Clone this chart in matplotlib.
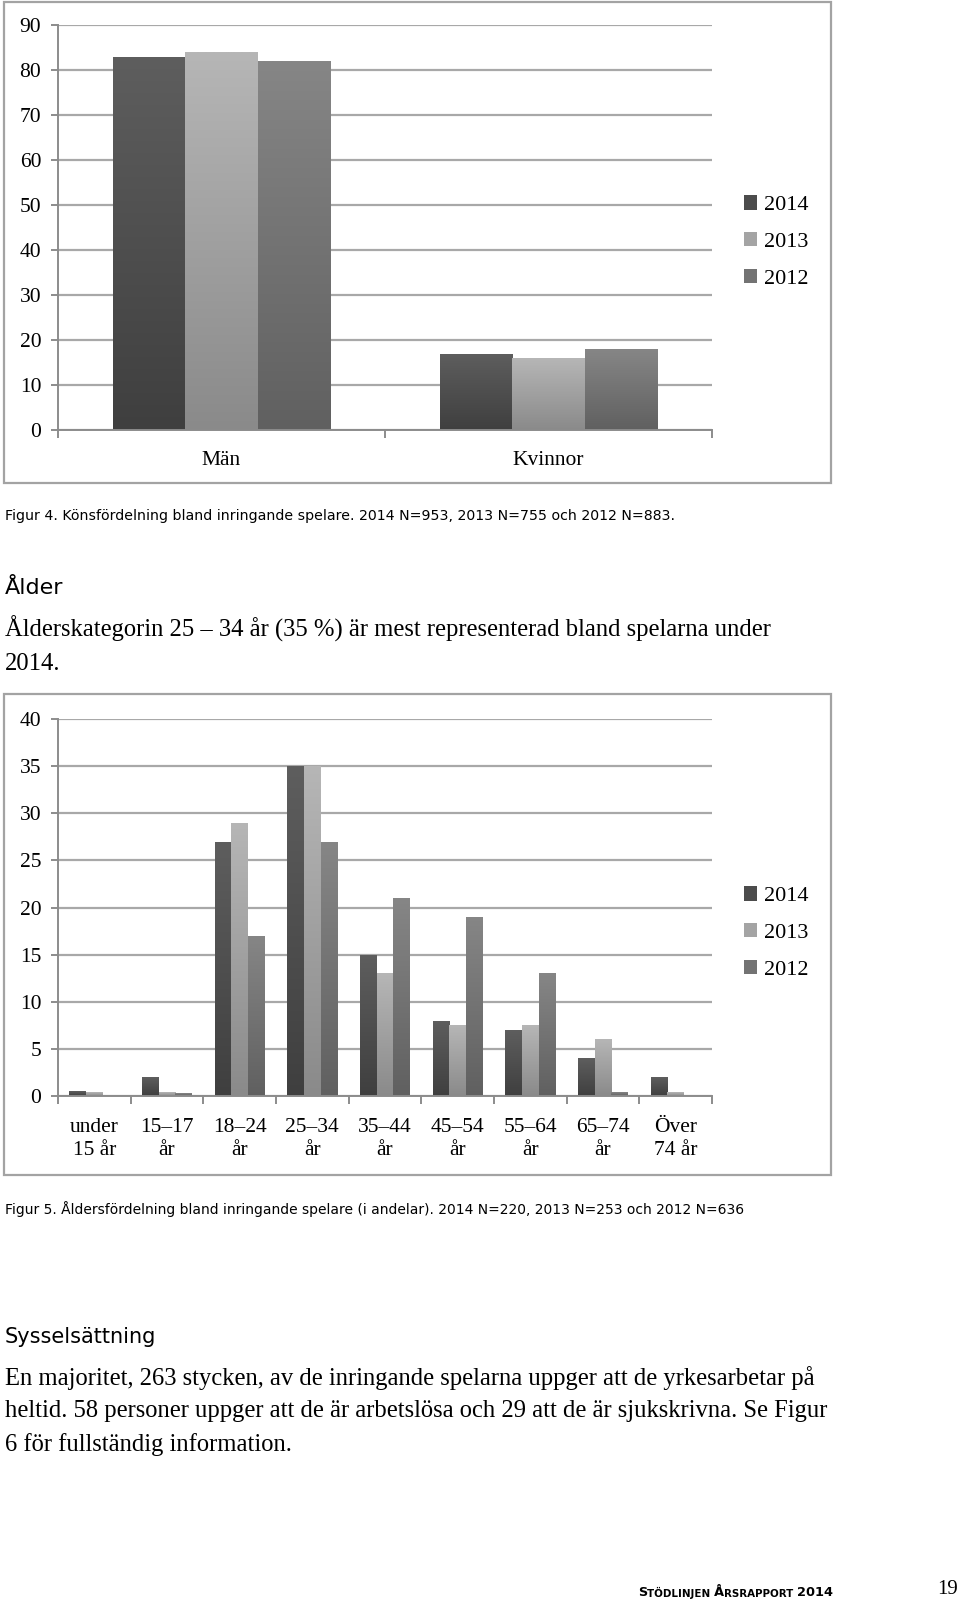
import numpy as np
import matplotlib.pyplot as plt
from matplotlib.patches import Rectangle
from matplotlib.colors import LinearSegmentedColormap

# data read from the page
years = ['2014', '2013', '2012']

kon_labels = ['Män', 'Kvinnor']
kon_2014 = [83, 17]
kon_2013 = [84, 16]
kon_2012 = [82, 18]

alder_labels = ['under\n15 år', '15–17\når', '18–24\når', '25–34\når', '35–44\når',
                '45–54\når', '55–64\når', '65–74\når', 'Över\n74 år']
alder_2014 = [0.5, 2, 27, 35, 15, 8, 7, 4, 2]
alder_2013 = [0.4, 0.4, 29, 35, 13, 7.5, 7.5, 6, 0.4]
alder_2012 = [0, 0.3, 17, 27, 21, 19, 13, 0.4, 0]

# (top colour, bottom colour) per year
bar_colors = [('#5e5e5e', '#3f3f3f'), ('#b6b6b6', '#8a8a8a'), ('#868686', '#606060')]
legend_colors = ['#4c4c4c', '#a4a4a4', '#737373']
grid_c = '#a8a8a8'
axis_c = '#8c8c8c'
serif = ['Liberation Serif', 'DejaVu Serif']
sans = ['DejaVu Sans']

W, H = 960, 1601
fig = plt.figure(figsize=(W / 100, H / 100), dpi=100)


def px_axes(left, top, right, bottom):
    return fig.add_axes([left / W, 1 - bottom / H, (right - left) / W, (bottom - top) / H])


def gradient_bars(ax, bars, top_c, bot_c):
    cmap = LinearSegmentedColormap.from_list('g', [bot_c, top_c])
    grad = np.linspace(0, 1, 256).reshape(-1, 1)
    for b in bars:
        x, y, w, h = b.get_x(), b.get_y(), b.get_width(), b.get_height()
        if h <= 0:
            continue
        im = ax.imshow(grad, cmap=cmap, extent=(x, x + w, y, y + h), origin='lower',
                       aspect='auto', zorder=2, interpolation='bilinear')
        im.set_clip_path(b)
        b.set_facecolor('none')


def bar_chart(ax, labels, series, width, ymax, step, label_pad):
    n = len(labels)
    x = np.arange(n)
    for i, vals in enumerate(series):
        bars = ax.bar(x + (i - 1) * width, vals, width, linewidth=0, zorder=2)
        gradient_bars(ax, bars, *bar_colors[i])
    ax.set_xlim(-0.5, n - 0.5)
    ax.set_ylim(0, ymax)
    ax.set_yticks(np.arange(0, ymax + 1, step))
    ax.yaxis.grid(True, color=grid_c, lw=1.6)
    ax.set_axisbelow(True)
    for s in ['top', 'right']:
        ax.spines[s].set_visible(False)
    for s in ['left', 'bottom']:
        ax.spines[s].set_color(axis_c)
        ax.spines[s].set_linewidth(1.4)
    ax.spines['bottom'].set_zorder(3)
    ax.set_xticks(x)
    ax.set_xticklabels(labels, fontfamily=serif, fontsize=15.5, linespacing=1.3)
    ax.set_xticks(np.arange(-0.5, n), minor=True)
    ax.tick_params(axis='x', which='major', length=0, pad=label_pad)
    ax.tick_params(axis='x', which='minor', length=6, width=1.4, color=axis_c)
    ax.tick_params(axis='y', length=5, width=1.4, color=axis_c, pad=7, labelsize=15.5)
    for t in ax.get_yticklabels():
        t.set_fontfamily(serif)
    ax.set_facecolor('none')


def frame(left, top, right, bottom):
    fig.add_artist(Rectangle((left / W, 1 - bottom / H), (right - left) / W, (bottom - top) / H,
                             transform=fig.transFigure, fill=False, ec='#a3a3a3', lw=1.6))


def legend(center_y):
    handles = [Rectangle((0, 0), 1, 1, fc=c, ec='none') for c in legend_colors]
    fig.legend(handles, years, loc='center left', bbox_to_anchor=(724 / W, 1 - center_y / H),
               frameon=False, handlelength=0.6, handleheight=0.6, handletextpad=0.3,
               labelspacing=0.75, prop={'family': serif, 'size': 16})


def text(x, y, s, size, family, **kw):
    fig.text(x / W, 1 - y / H, s, fontsize=size, fontfamily=family, va='center', ha='left', **kw)


# Figur 4
frame(4, 2, 831, 483)
ax1 = px_axes(58, 25.5, 712, 430)
bar_chart(ax1, kon_labels, [kon_2014, kon_2013, kon_2012], 0.222, 90, 10, 15)
legend(242)

text(5, 516, 'Figur 4. Könsfördelning bland inringande spelare. 2014 N=953, 2013 N=755 och 2012 N=883.',
     10.2, sans)
text(5, 588, 'Ålder', 16, sans)
text(5, 629, 'Ålderskategorin 25 – 34 år (35 %) är mest representerad bland spelarna under', 17.7, serif)
text(5, 664, '2014.', 17.7, serif)

# Figur 5
frame(4, 694, 831, 1175)
ax2 = px_axes(58, 719, 712, 1096)
bar_chart(ax2, alder_labels, [alder_2014, alder_2013, alder_2012], 0.23, 40, 5, 16)
legend(933)

text(5, 1209, 'Figur 5. Åldersfördelning bland inringande spelare (i andelar). 2014 N=220, 2013 N=253 och 2012 N=636',
     10.0, sans)
text(5, 1337, 'Sysselsättning', 15, sans)
text(5, 1378, 'En majoritet, 263 stycken, av de inringande spelarna uppger att de yrkesarbetar på', 17.7, serif)
text(5, 1411, 'heltid. 58 personer uppger att de är arbetslösa och 29 att de är sjukskrivna. Se Figur', 17.7, serif)
text(5, 1445, '6 för fullständig information.', 17.7, serif)

# footer in small caps, built from pieces placed one after another
pieces = [('S', 9.3), ('TÖDLINJEN ', 7.4), ('Å', 9.3), ('RSRAPPORT ', 7.4), ('2014', 9.3)]
ann = fig.text(638 / W, 1 - 1596 / H, pieces[0][0], fontsize=pieces[0][1], fontweight='bold',
               fontfamily=sans, va='baseline', ha='left')
for s, size in pieces[1:]:
    ann = plt.annotate(s, xy=(1, 0), xycoords=ann, fontsize=size, fontweight='bold',
                       fontfamily=sans, va='bottom', ha='left', annotation_clip=False)
fig.text(948 / W, 1 - 1589 / H, '19', fontsize=15, fontfamily=serif, ha='center', va='center')

fig.savefig('out.png', dpi=100)
